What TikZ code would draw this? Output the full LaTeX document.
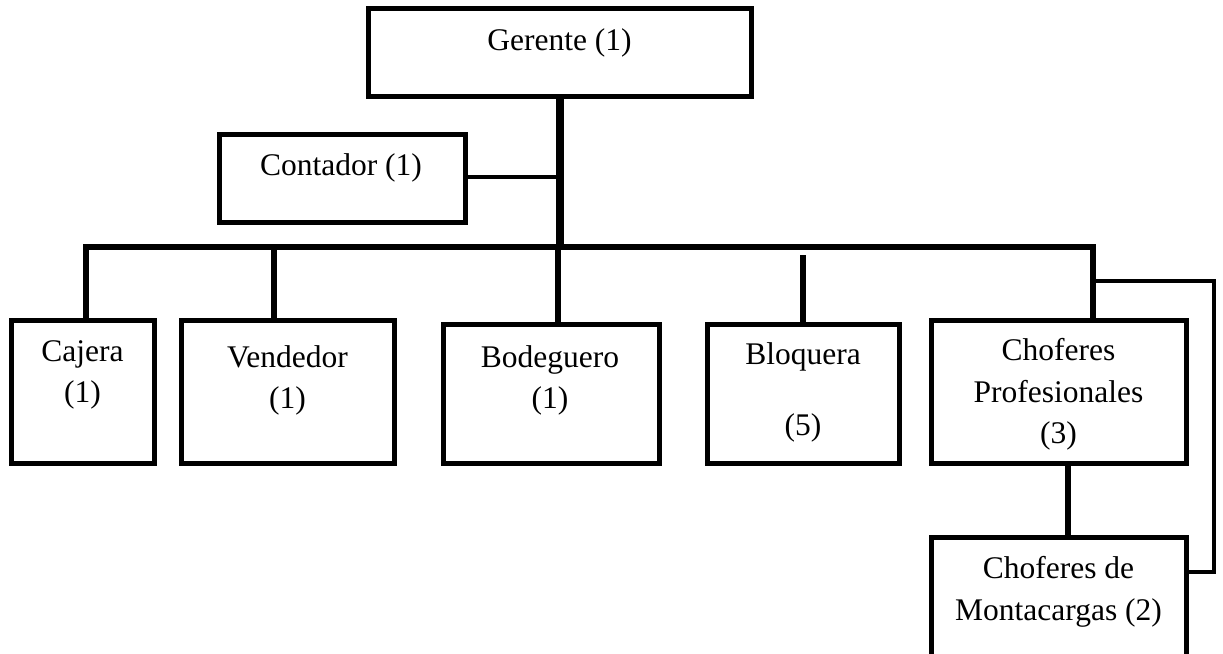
\documentclass[tikz,border=0pt]{standalone}
\usepackage{fontspec}
\setmainfont{Liberation Serif}
\begin{document}
\begin{tikzpicture}[x=1pt,y=-1pt,
  box/.style={draw=black, line width=5pt, inner sep=0pt, outer sep=0pt, fill=white},
  txt/.style={anchor=base, inner sep=0pt, font=\fontsize{31.5}{40}\selectfont},
  conn/.style={line width=5.5pt, line join=miter},
  thin/.style={line width=4.5pt, line join=miter},
  trunk/.style={line width=7.5pt}]
\clip (0,0) rectangle (1223,653);
\fill[white] (0,0) rectangle (1223,653);
% boxes
\node[box, minimum width=383pt, minimum height=88pt] (ger) at (559.5,52) {};
\node[box, minimum width=246pt, minimum height=88pt] (con) at (342,178) {};
\node[box, minimum width=143pt, minimum height=143pt] (caj) at (82.5,391.5) {};
\node[box, minimum width=213pt, minimum height=143pt] (ven) at (287.5,391.5) {};
\node[box, minimum width=216pt, minimum height=139pt] (bod) at (551,393.5) {};
\node[box, minimum width=192pt, minimum height=139pt] (blo) at (803,393.5) {};
\node[box, minimum width=255pt, minimum height=143pt] (pro) at (1058.5,391.5) {};
\node[box, minimum width=255pt, minimum height=143pt] (mon) at (1058.5,608.5) {};
% texts
\node[txt] (gerT) at (559.5,50) {Gerente (1)};
\node[txt] (conT) at (341,175) {Contador (1)};
\node[txt] (cajT1) at (82.5,361) {Cajera};
\node[txt] (cajT2) at (82.5,402) {(1)};
\node[txt] (venT1) at (287.5,367) {Vendedor};
\node[txt] (venT2) at (287.5,408) {(1)};
\node[txt] (bodT1) at (550,367) {Bodeguero};
\node[txt] (bodT2) at (550,408) {(1)};
\node[txt] (bloT1) at (803,364) {Bloquera};
\node[txt] (bloT2) at (803,435) {(5)};
\node[txt] (proT1) at (1058.5,360) {Choferes};
\node[txt] (proT2) at (1058.5,402) {Profesionales};
\node[txt] (proT3) at (1058.5,443) {(3)};
\node[txt] (monT1) at (1058.5,578) {Choferes de};
\node[txt] (monT2) at (1058.5,620) {Montacargas (2)};
% connector points
\coordinate (hubL) at (86,247);
\coordinate (hubR) at (1093,247);
\coordinate (trunkB) at (560,249);
\coordinate (conJ) at (560,177);
\coordinate (venJ) at (274,247);
\coordinate (bodJ) at (558,247);
\coordinate (bloJ) at (803,255);
\coordinate (brA) at (1093,281);
\coordinate (brB) at (1214,281);
\coordinate (brC) at (1214,572);
% connectors
\draw[trunk] (ger.south -| trunkB) -- (trunkB);
\draw[thin] (con.east |- conJ) -- (conJ);
\draw[conn] (hubL |- caj.north) -- (hubL) -- (hubR) -- (hubR |- pro.north);
\draw[conn] (venJ) -- (venJ |- ven.north);
\draw[conn] (bodJ) -- (bodJ |- bod.north);
\draw[conn] (bloJ) -- (bloJ |- blo.north);
\draw[thin] (brA) -- (brB) -- (brC) -- (mon.east |- brC);
\draw[conn] (pro.south -| 1068,0) -- (mon.north -| 1068,0);
\end{tikzpicture}
\end{document}
